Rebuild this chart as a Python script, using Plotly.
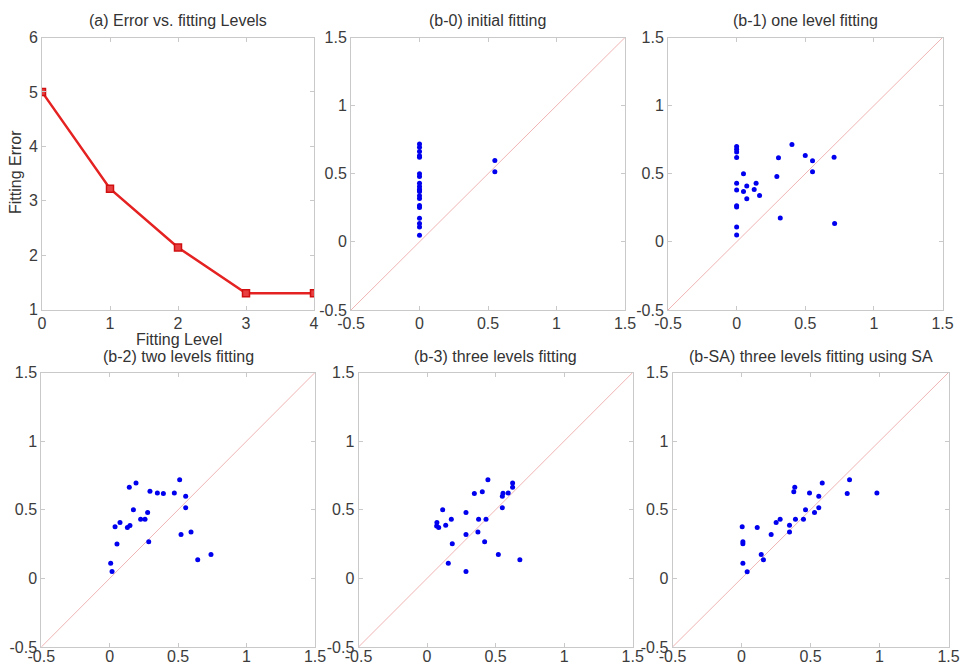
import plotly.graph_objects as go

# ---------------- data ----------------
levels = [0, 1, 2, 3, 4]
fit_error = [5.0, 3.22, 2.14, 1.30, 1.30]
level_ticks = [0, 1, 2, 3, 4]
error_ticks = [1, 2, 3, 4, 5, 6]

b0_x = [0, 0, 0, 0, 0, 0, 0, 0, 0, 0, 0, 0, 0, 0, 0, 0, 0, 0, 0, 0, 0.55, 0.55]
b0_y = [0.718, 0.694, 0.664, 0.632, 0.622, 0.50, 0.48, 0.43, 0.407, 0.387, 0.377,
        0.37, 0.338, 0.319, 0.267, 0.252, 0.174, 0.135, 0.11, 0.049, 0.598, 0.515]

b1_x = [0, 0, 0, 0, 0.05, 0, 0, 0.05, 0.074, 0.142, 0.128, 0.074, 0.167, 0, 0,
        0, 0, 0.305, 0.293, 0.403, 0.50, 0.553, 0.553, 0.71, 0.318, 0.714]
b1_y = [0.70, 0.68, 0.66, 0.62, 0.50, 0.43, 0.38, 0.37, 0.41, 0.43, 0.385, 0.317,
        0.34, 0.265, 0.256, 0.11, 0.05, 0.617, 0.48, 0.715, 0.634, 0.595, 0.515,
        0.622, 0.176, 0.134]

b2_x = [0.007, 0.017, 0.039, 0.053, 0.075, 0.129, 0.148, 0.143, 0.192, 0.173,
        0.226, 0.258, 0.277, 0.285, 0.294, 0.348, 0.392, 0.472, 0.511, 0.555,
        0.555, 0.521, 0.594, 0.643, 0.74]
b2_y = [0.11, 0.05, 0.377, 0.25, 0.407, 0.37, 0.385, 0.664, 0.694, 0.50, 0.43,
        0.43, 0.48, 0.267, 0.635, 0.622, 0.618, 0.622, 0.718, 0.598, 0.515, 0.319,
        0.338, 0.135, 0.174]

b3_x = [0.072, 0.070, 0.085, 0.114, 0.136, 0.177, 0.184, 0.155, 0.284, 0.284,
        0.284, 0.345, 0.403, 0.444, 0.376, 0.371, 0.43, 0.42, 0.52, 0.549, 0.549,
        0.554, 0.592, 0.624, 0.624, 0.677]
b3_y = [0.407, 0.382, 0.37, 0.50, 0.387, 0.43, 0.252, 0.11, 0.48, 0.319, 0.051,
        0.618, 0.632, 0.718, 0.43, 0.338, 0.43, 0.267, 0.174, 0.515, 0.598, 0.62,
        0.622, 0.694, 0.664, 0.135]

bsa_x = [0.005, 0.01, 0.01, 0.01, 0.041, 0.114, 0.143, 0.159, 0.215, 0.251, 0.28,
         0.348, 0.348, 0.379, 0.386, 0.391, 0.449, 0.464, 0.493, 0.529, 0.56, 0.56,
         0.585, 0.766, 0.783, 0.981]
bsa_y = [0.377, 0.267, 0.252, 0.11, 0.049, 0.37, 0.174, 0.135, 0.319, 0.407, 0.43,
         0.387, 0.338, 0.632, 0.664, 0.43, 0.43, 0.50, 0.622, 0.48, 0.515, 0.598,
         0.694, 0.618, 0.718, 0.622]

diag = [-0.5, 1.5]
scatter_ticks = [-0.5, 0, 0.5, 1, 1.5]
scatter_ticktext = ["-0.5", "0", "0.5", "1", "1.5"]

titles = ["(a) Error vs. fitting Levels", "(b-0) initial fitting",
          "(b-1) one level fitting", "(b-2) two levels fitting",
          "(b-3) three levels fitting", "(b-SA) three levels fitting using SA"]

# ---------------- layout geometry ----------------
W, H = 961, 668
# pixel boxes (left, right, top, bottom)
boxes = [(42, 314, 37.5, 309.5), (351, 625, 37.5, 310), (668, 942.5, 37.5, 310),
         (41.3, 315, 372.5, 647), (358.5, 632.7, 372.5, 647), (672.5, 948.5, 372.5, 647)]

FONT = "Liberation Sans, Arial, sans-serif"
TICKCOL = "#3c3c3c"
TXTCOL = "#333333"
FRAME = "#c9c9c9"

fig = go.Figure()
scatter_sets = [(b0_x, b0_y), (b1_x, b1_y), (b2_x, b2_y), (b3_x, b3_y), (bsa_x, bsa_y)]

layout = dict(width=W, height=H, margin=dict(l=0, r=0, t=0, b=0, pad=0),
              template="none", autosize=False,
              paper_bgcolor="white", plot_bgcolor="white", showlegend=False,
              font=dict(family=FONT, color=TICKCOL))

annotations = []
for i, (l, r, t, b) in enumerate(boxes):
    n = i + 1
    xk = "xaxis" if n == 1 else f"xaxis{n}"
    yk = "yaxis" if n == 1 else f"yaxis{n}"
    xref = "x" if n == 1 else f"x{n}"
    yref = "y" if n == 1 else f"y{n}"
    common = dict(showline=True, mirror="ticks", linecolor=FRAME, linewidth=1,
                  ticks="inside", ticklen=4, tickcolor=FRAME, tickwidth=1,
                  showgrid=False, zeroline=False, automargin=False,
                  tickfont=dict(family=FONT, size=16, color=TICKCOL))
    if n == 1:
        xa = dict(range=[0, 4], tickvals=level_ticks, **common)
        ya = dict(range=[1, 6], tickvals=error_ticks, **common)
    else:
        xa = dict(range=[-0.5, 1.5], tickvals=scatter_ticks, ticktext=scatter_ticktext, **common)
        ya = dict(range=[-0.5, 1.5], tickvals=scatter_ticks, ticktext=scatter_ticktext, **common)
    xa.update(domain=[l / W, r / W], anchor=yref,
              ticklabelstandoff=(-5 if i >= 3 else -1))
    ya.update(domain=[1 - b / H, 1 - t / H], anchor=xref)
    layout[xk] = xa
    layout[yk] = ya

    # panel title
    ty = 20.5 if i < 3 else 356
    annotations.append(dict(text=titles[i], x=(l + r) / 2 / W, y=1 - ty / H,
                            xref="paper", yref="paper", showarrow=False,
                            xanchor="center", yanchor="middle",
                            font=dict(family=FONT, size=16, color=TXTCOL)))

    if n == 1:
        fig.add_trace(go.Scatter(x=levels, y=fit_error, mode="lines+markers",
                                 line=dict(color="#e52222", width=2.5),
                                 marker=dict(symbol="square", size=7, color="#e84040",
                                             line=dict(color="#d01010", width=1.5)),
                                 xaxis=xref, yaxis=yref))
    else:
        sx, sy = scatter_sets[i - 1]
        fig.add_trace(go.Scatter(x=diag, y=diag, mode="lines",
                                 line=dict(color="#f0b4b4", width=1),
                                 xaxis=xref, yaxis=yref))
        fig.add_trace(go.Scatter(x=sx, y=sy, mode="markers",
                                 marker=dict(color="#0000ee", size=5),
                                 xaxis=xref, yaxis=yref))

# axis titles for panel (a)
annotations.append(dict(text="Fitting Level", x=179 / W, y=1 - 339.5 / H,
                        xref="paper", yref="paper", showarrow=False,
                        xanchor="center", yanchor="middle",
                        font=dict(family=FONT, size=16, color=TXTCOL)))
annotations.append(dict(text="Fitting Error", x=16 / W, y=1 - 172 / H,
                        xref="paper", yref="paper", showarrow=False, textangle=-90,
                        xanchor="center", yanchor="middle",
                        font=dict(family=FONT, size=16, color=TXTCOL)))
layout["annotations"] = annotations

fig.update_layout(**layout)
fig.write_html("out.html", config={"displayModeBar": False},
               post_script="document.body.style.margin='0';document.body.style.padding='0';")
